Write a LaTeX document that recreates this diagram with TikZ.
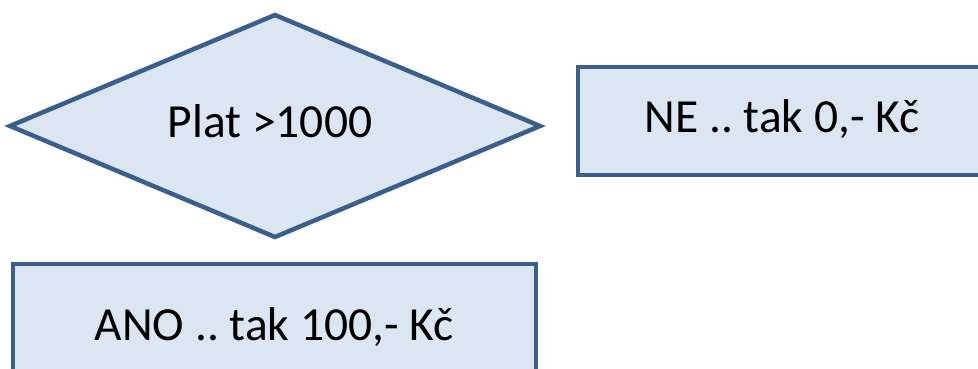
\documentclass[tikz,border=0pt]{standalone}
\usepackage{fontspec}
\setmainfont{Carlito}
\frenchspacing
\usetikzlibrary{shapes.geometric}
\definecolor{lineblue}{HTML}{3A5F8B}
\definecolor{fillblue}{HTML}{DCE6F2}
\tikzset{
  shapebox/.style={draw=lineblue, fill=fillblue, line width=4.5pt, inner sep=0pt, outer sep=0pt},
  label text/.style={font=\fontsize{47.5}{56}\selectfont\frenchspacing, text=black, inner sep=0pt, anchor=base}
}
\begin{document}
\begin{tikzpicture}[x=1pt,y=-1pt]
\useasboundingbox (0,0) rectangle (978,368);
\begin{scope}
\clip (0,0) rectangle (978,368);
\node[shapebox, diamond, minimum width=530pt, minimum height=222pt] (dec) at (275,126) {};
\node[shapebox, rectangle, minimum width=408pt, minimum height=108pt] (ne) at (782,121) {};
\node[shapebox, rectangle, minimum width=523pt, minimum height=128pt] (ano) at (274.5,328) {};
\end{scope}
\node[label text] (dectext) at (270,137) {Plat >1000};
\node[label text] (netext) at (782,132) {NE .. tak 0,- Kč};
\node[label text] (anotext) at (274,340) {ANO .. tak 100,- Kč};
\end{tikzpicture}
\end{document}
